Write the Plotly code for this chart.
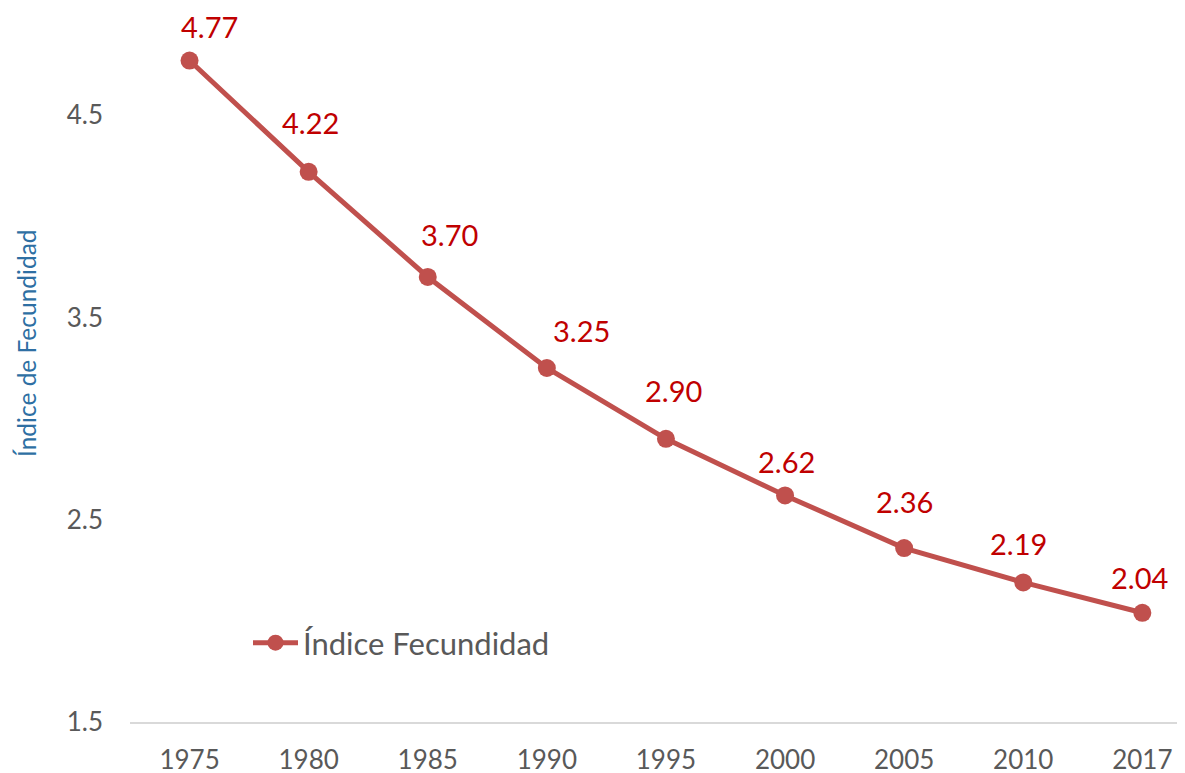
import plotly.graph_objects as go

years = ["1975", "1980", "1985", "1990", "1995", "2000", "2005", "2010", "2017"]
fecundidad = [4.77, 4.22, 3.70, 3.25, 2.90, 2.62, 2.36, 2.19, 2.04]
y_ticks = [1.5, 2.5, 3.5, 4.5]

# label offsets (px) relative to each point
label_dx = [20, 2, 22, 35, 8, 1, 0, -5, -3]
label_dy = [34, 49, 42, 38, 48, 34, 47, 39, 35]

FONT = "Lato"
TICK_COLOR = "#595959"
LINE_COLOR = "#C0504D"
LABEL_COLOR = "#C00000"

PLOT_W = 1185 - 122
PX_PER_CAT = 119.1

fig = go.Figure()
fig.add_trace(go.Scatter(
    x=years, y=fecundidad, mode="lines+markers", name="Índice Fecundidad",
    line=dict(color=LINE_COLOR, width=5),
    marker=dict(color=LINE_COLOR, size=18),
))

for i, (v, dx, dy) in enumerate(zip(fecundidad, label_dx, label_dy)):
    fig.add_annotation(x=i, y=v, text=f"{v:.2f}", showarrow=False,
                       xshift=dx, yshift=dy,
                       font=dict(family=FONT, size=29, color=LABEL_COLOR))

fig.add_annotation(xref="paper", yref="paper", x=-104 / PLOT_W, xanchor="center",
                   y=(773 - 51 - 343) / 708, yanchor="middle",
                   text="Índice de Fecundidad", textangle=-90, showarrow=False,
                   font=dict(family=FONT, size=24.5, color="#2E6FA3"))

fig.update_layout(
    width=1185, height=773,
    margin=dict(l=122, r=0, t=6, b=59, autoexpand=False),
    paper_bgcolor="white", plot_bgcolor="white",
    font=dict(family=FONT, color=TICK_COLOR, size=26),
    showlegend=True,
    legend=dict(x=(248 - 130) / PLOT_W, y=(773 - 51 - 643) / 708,
                xanchor="left", yanchor="middle", itemwidth=45,
                font=dict(family=FONT, size=31, color=TICK_COLOR),
                bgcolor="rgba(0,0,0,0)"),
    xaxis=dict(type="category", range=[-0.5, -0.5 + PLOT_W / PX_PER_CAT],
               showgrid=False, automargin=False,
               showline=True, linecolor="#D9D9D9", linewidth=2,
               ticks="", tickfont=dict(family=FONT, size=26, color=TICK_COLOR),
               ticklabelstandoff=14, fixedrange=True),
    yaxis=dict(range=[1.5, 5.0], tickvals=y_ticks, ticktext=[f"{t:.1f}" for t in y_ticks],
               showgrid=False, zeroline=False, showline=False, ticks="", automargin=False,
               tickfont=dict(family=FONT, size=26, color=TICK_COLOR),
               ticklabelstandoff=26),
)

fig.write_html("out.html")
